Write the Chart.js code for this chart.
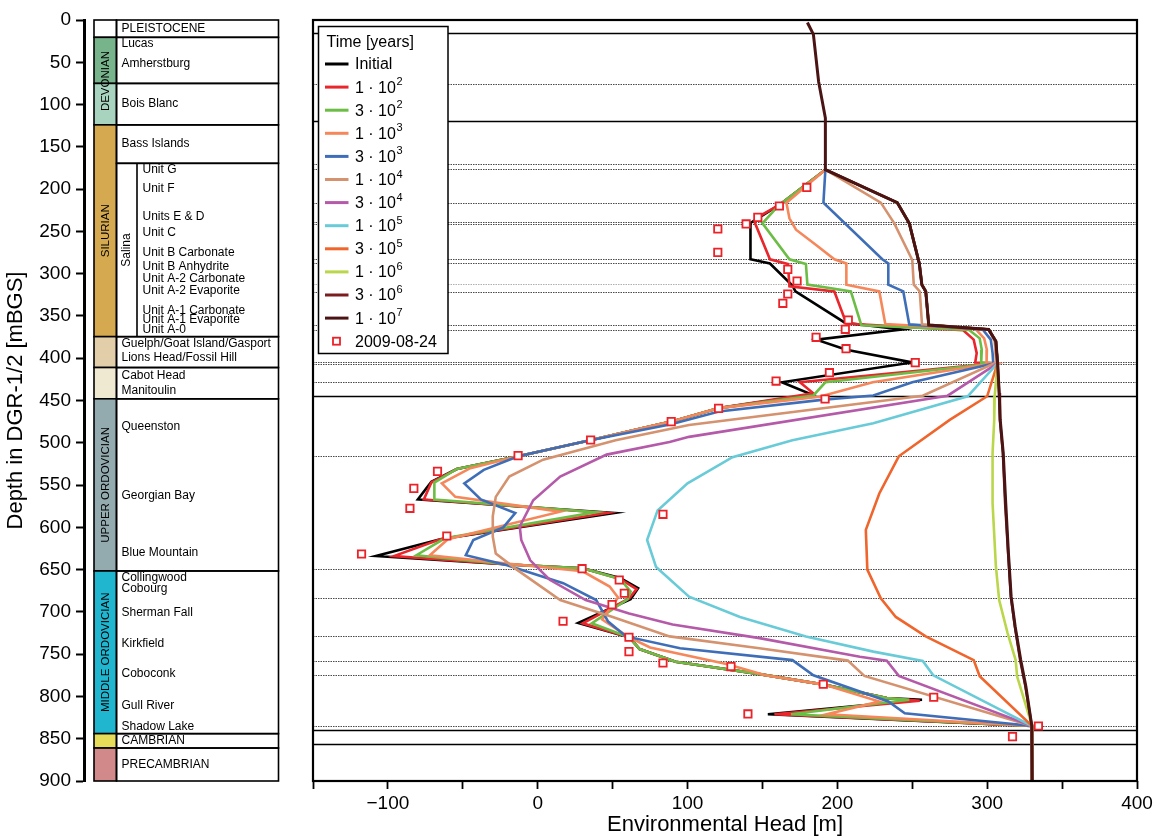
<!DOCTYPE html>
<html>
<head>
<meta charset="utf-8">
<title>DGR-1/2 environmental head profiles</title>
<script src="https://cdn.jsdelivr.net/npm/chart.js@4.4.1/dist/chart.umd.min.js"></script>
<style>
  html, body { margin: 0; padding: 0; background: #fff; }
</style>
</head>
<body>
<canvas id="headChart" width="1156" height="836"></canvas>
<script>
const FONT = '"Liberation Sans", Arial, Helvetica, sans-serif';
Chart.defaults.font.family = FONT;
Chart.defaults.color = '#000';

// ---- simulated environmental head profiles, [head (m), depth (mBGS)] ----
const headInitial = [
  [192,177],[161,219],[142,240],[142,283],[155,288],[170,314],[172,321],[205,358],[243,366],
  [186,378],[206,390],[250,405],[163,428.5],[183,443],[121,459],[89,475],[35,497],[-13,516],
  [-54,531],[-71,546],[-80,567],[51,583],[-65,614],[-108,634],[-19,644],[30,648.5],[55,660],
  [67,672],[62,685],[27,713],[61,730],[68,744],[92,759],[146,773],[191,786],[233,802],
  [256.5,804],[153.6,821],[330,835],[330,900]
];
const head1e2 = [
  [192,177],[161,219],[147,233],[145,240],[155,283],[167,288.5],[168,315],[198,321],[206,359],
  [284,367],[291,378],[293,394],[292,405],[305,406],[175,428.5],[184,441.5],[121,459],[89,475],
  [35,497],[-13,516],[-54,531],[-71,547],[-76,567],[46,583],[-65,614],[-96,634],[-19,644],
  [30,648.5],[55,661],[66,673],[61,684],[30,713.5],[61,730],[68,744],[92,759],[146,773],
  [191,786],[233,802],[255,805],[158,821],[330,835],[330,900]
];
const head3e2 = [
  [192,177],[161,219],[150,240.5],[168,283],[179,288.5],[180,313],[209,321],[216,361],
  [288,366.6],[295,376.5],[296.4,390],[296,405],[305,406],[192,428.5],[184,444],[121,459],
  [89,475],[35,497],[-13,516],[-54,531],[-69,547],[-69,567],[39,582],[-62,613],[-81,633],
  [-19,644],[30,648.5],[55,661],[62,676],[60,685],[36,713.5],[61,730],[68,744],[92,759],
  [146,773],[191,786],[233,802],[248,804],[169,821],[330,835],[330,900]
];
const head1e3 = [
  [192,177],[166,216],[168,234.5],[172.4,248],[185.8,266],[198,283],[206,288],[206,313],
  [228,321],[232,359.5],[292.4,365.8],[298,376.5],[299.8,390],[299.6,405],[305,406],
  [223.6,428.5],[188,445.5],[121,459],[89,475],[35,497],[-13,516],[-45,530],[-64,548],
  [-55,564],[15,581.5],[-60,614],[-72,633],[-19,643],[30,652],[48,670],[53.6,683],[43,709],
  [61,730],[75,742],[126,761.6],[152,775],[191,786],[228,806],[193,821],[330,835],[330,900]
];
const head3e3 = [
  [192,177],[190.7,216],[230,283],[234,288],[234,313],[244,321],[248,360],[297,366],
  [302.4,378],[303.6,394],[304,405],[305,406],[250,428.5],[224,444],[191,449],[121,463],
  [89,478],[35,497],[-13,516],[-36,532],[-49,548],[-38,567],[-15,583],[-23,600],[-43,615],
  [-48,633],[-21,644.5],[17,666],[39,686],[47,711.5],[59,729],[95,743],[170,757],[184,775],
  [234,806],[245,820],[330,835],[330,900]
];
const head1e4 = [
  [192,177],[229,216],[238,240.5],[250,283.8],[251,313],[255,321],[256.5,360],[301,366],
  [305,380],[306,404],[305,406],[257,444.3],[101,479],[68,491],[52,497],[3.6,520],[-19,540],
  [-28,564],[-30,587],[-30,611],[-28,631],[-14,650],[15,686],[50,706],[88,729],[148,743],
  [207,757.6],[218,775.7],[330,835],[330,900]
];
// upper part where the later times have already equilibrated
const salinaEquilibrated = [
  [192,177],[240,216],[248,240.5],[254.7,288],[256.4,313],[259,321],[261,360.7],[301,366],
  [305.8,380],[306.9,406]
];
const head3e4 = [
  ...salinaEquilibrated,
  [273.6,444.3],[101,493],[88,499],[46,514],[15,540],[-3,568],[-12,599],[-11,615],[-5,639],
  [8,662],[32,686],[61,702],[90,715],[148,731],[215,753],[233,757.6],[241,775.7],[330,835],
  [330,900]
];
const head1e5 = [
  ...salinaEquilibrated,
  [287,445],[224,477],[170,497],[130,517],[100,548],[80,580],[73,615],[79,647],[101,682],
  [135,706],[179,729],[224,747],[257,758],[264,775],[330,835],[330,900]
];
const head3e5 = [
  ...salinaEquilibrated,
  [300,445],[275,473],[241,516],[228,560],[219,603],[220,650],[229,684],[239,706],[259,729],
  [291,757],[295,776],[330,835],[330,900]
];
const head1e6 = [
  ...salinaEquilibrated,
  [305,445],[304.7,473],[303.6,512],[303.6,571.5],[305.8,646],[308,686],[313.6,725],[319,757],
  [320,776.5],[330,835],[330,900]
];
const head3e6 = [
  ...salinaEquilibrated,
  [308,441],[308.5,473],[310.5,512],[312,572],[314,631],[315.8,682],[318.5,717.5],[322,757],
  [325.5,788],[329.8,835],[330,900]
];
const head1e7 = [
  [180,3],[184,17],[187.5,73],[192,116],[192,177],[240,216],[248,240.5],[254.7,288],
  [256.4,313],[259,321],[261,360.7],[301,366],[305.8,380],[307,406],[308,441],[308.7,473],
  [310.7,512],[312.4,572],[314.2,631],[316,682],[318.7,717.5],[322.4,757],[325.8,788],
  [329.8,835],[330,900]
];

// field measurements 2009-08-24
const measured = [
  [179.6,198],[161.3,220],[146.9,233.4],[139.1,241.2],[120.2,247.2],[120.2,274.8],[166.9,294.9],
  [173.1,308.7],[166.9,324],[163.6,335.1],[207.3,354.8],[205.3,365.8],[185.8,375.3],[205.8,388.7],
  [252,405.2],[194.7,417.1],[159.1,427],[191.8,448.2],[120.7,459.3],[89.1,475],[35.3,496.7],
  [-13.1,515.2],[-66.9,533.8],[-82.7,553.9],[-85.3,577.5],[83.6,584.6],[-60.7,610.2],
  [-117.6,631.5],[29.6,648.9],[54.4,662.3],[57.8,678],[49.6,691.4],[16.9,711.1],[60.9,730],
  [60.9,747],[83.6,760.4],[129,764.7],[190.6,785.6],[264.3,801],[140.3,820.7],[334.2,834.9],
  [316.9,847.5]
];

const seriesProfiles = [headInitial, head1e2, head3e2, head1e3, head3e3, head1e4,
                        head3e4, head1e5, head3e5, head1e6, head3e6, head1e7];
const seriesLabels = ['Initial', '1 · 10^2', '3 · 10^2', '1 · 10^3', '3 · 10^3', '1 · 10^4',
                      '3 · 10^4', '1 · 10^5', '3 · 10^5', '1 · 10^6', '3 · 10^6', '1 · 10^7'];
const seriesColors = ['#000000', '#e8262b', '#6cbd45', '#f5875a', '#3f6eb8', '#d4926f',
                      '#b45aa9', '#69cbd8', '#ef652c', '#bad64a', '#7b1d1f', '#4a1414'];
const measuredLabel = '2009-08-24';

// model layer boundaries drawn across the plot (mBGS)
const solidLayerDepths = [15.8, 119.4, 444.5, 839.7, 856.2];
const dottedLayerDepths = [75.7, 170.3, 176.6, 216, 238.9, 240.9, 283, 287.8, 322, 360.3, 366.6,
                           404, 406.8, 428.5, 515.2, 648.9, 683.5, 728.1, 758.4, 774.6, 834.5];
const faintLayerDepths = [312.6];

// stratigraphic column (mBGS)
const eraTops = [0, 20.5, 75, 124, 374.5, 411, 448, 651.6, 844, 861];
const eraColors = ['#ffffff', '#77b48c', '#a7d3bf', '#d4a94f', '#e2cfa9', '#f0e9d2',
                   '#93aaaf', '#21b6d0', '#e6dc5a', '#d18a89'];
const eraLabels = ['DEVONIAN', 'SILURIAN', 'UPPER ORDOVICIAN', 'MIDDLE ORDOVICIAN'];
const eraLabelSpans = [[20.5, 124], [124, 374.5], [448, 651.6], [651.6, 844]];
const formationTops = [0, 20.5, 75, 124, 169.5, 374.5, 411, 448, 651.6, 844, 861];
const salinaSpan = [169.5, 374.5];
const formationNames = ['PLEISTOCENE', 'Lucas', 'Amherstburg', 'Bois Blanc', 'Bass Islands',
  'Guelph/Goat Island/Gasport', 'Lions Head/Fossil Hill', 'Cabot Head', 'Manitoulin',
  'Queenston', 'Georgian Bay', 'Blue Mountain', 'Collingwood', 'Cobourg', 'Sherman Fall',
  'Kirkfield', 'Coboconk', 'Gull River', 'Shadow Lake', 'CAMBRIAN', 'PRECAMBRIAN'];
const formationLabelDepths = [10.6, 27.6, 51.2, 98.5, 145.8, 382.3, 399.4, 421, 438.7, 481,
  562.6, 630, 659, 672.9, 700.5, 737.9, 772.6, 810.9, 835.7, 852.3, 881];
const salinaUnits = ['Unit G', 'Unit F', 'Units E & D', 'Unit C', 'Unit B Carbonate',
  'Unit B Anhydrite', 'Unit A-2 Carbonate', 'Unit A-2 Evaporite', 'Unit A-1 Carbonate',
  'Unit A-1 Evaporite', 'Unit A-0'];
const salinaUnitDepths = [177.4, 199.8, 232.6, 251.1, 274.7, 291.7, 305.5, 320.1, 343.8,
  354.8, 365.8];

const xTickStep = 50;

const datasets = seriesProfiles.map((pts, i) => ({
  label: seriesLabels[i],
  data: pts.map(([x, y]) => ({ x, y })),
  showLine: true,
  borderColor: seriesColors[i],
  backgroundColor: seriesColors[i],
  borderWidth: i === 11 ? 3 : 2.6,
  pointRadius: 0,
  pointHoverRadius: 0,
  order: seriesProfiles.length - i
}));
datasets.push({
  label: measuredLabel,
  data: measured.map(([x, y]) => ({ x, y })),
  showLine: false,
  pointStyle: 'rect',
  pointRadius: 5.2,
  pointBorderWidth: 1.8,
  borderColor: '#ec2228',
  backgroundColor: '#ffffff',
  order: 0
});

// horizontal layer boundaries behind the curves
const layerLines = {
  id: 'layerLines',
  beforeDatasetsDraw(chart) {
    const { ctx, chartArea: a, scales: { y } } = chart;
    const hline = d => {
      const py = Math.round(y.getPixelForValue(d)) + 0.5;
      ctx.beginPath(); ctx.moveTo(a.left, py); ctx.lineTo(a.right, py); ctx.stroke();
    };
    ctx.save();
    ctx.lineWidth = 1.2;
    ctx.setLineDash([1.5, 1]);
    ctx.strokeStyle = '#4a4a4a';
    dottedLayerDepths.forEach(hline);
    ctx.strokeStyle = '#b0b0b0';
    faintLayerDepths.forEach(hline);
    ctx.setLineDash([]);
    ctx.strokeStyle = '#000';
    ctx.lineWidth = 1.6;
    solidLayerDepths.forEach(hline);
    ctx.restore();
  }
};

const plotFrame = {
  id: 'plotFrame',
  afterDatasetsDraw(chart) {
    const { ctx, chartArea: a } = chart;
    ctx.save();
    ctx.strokeStyle = '#000';
    ctx.lineWidth = 2.2;
    ctx.strokeRect(a.left, a.top, a.right - a.left, a.bottom - a.top);
    ctx.restore();
  }
};

// stratigraphic column between the depth axis and the plot
const stratColumn = {
  id: 'stratColumn',
  afterDraw(chart) {
    const { ctx, scales: { y } } = chart;
    const py = d => y.getPixelForValue(d);
    const eraL = 94, eraR = 116.5, salinaR = 137, colR = 278.5;
    ctx.save();
    ctx.strokeStyle = '#000';
    ctx.lineWidth = 1.6;
    eraTops.forEach((t, i) => {
      const b = i + 1 < eraTops.length ? eraTops[i + 1] : 900;
      ctx.fillStyle = eraColors[i];
      ctx.fillRect(eraL, py(t), eraR - eraL, py(b) - py(t));
      ctx.strokeRect(eraL, py(t), eraR - eraL, py(b) - py(t));
    });
    formationTops.forEach((t, i) => {
      const b = i + 1 < formationTops.length ? formationTops[i + 1] : 900;
      ctx.strokeRect(eraR, py(t), colR - eraR, py(b) - py(t));
    });
    ctx.beginPath();
    ctx.moveTo(salinaR, py(salinaSpan[0]));
    ctx.lineTo(salinaR, py(salinaSpan[1]));
    ctx.stroke();

    ctx.fillStyle = '#000';
    ctx.textBaseline = 'middle';
    ctx.textAlign = 'left';
    ctx.font = `12px ${FONT}`;
    formationNames.forEach((n, i) => ctx.fillText(n, 121.5, py(formationLabelDepths[i])));
    salinaUnits.forEach((n, i) => ctx.fillText(n, 142.5, py(salinaUnitDepths[i])));

    const vertical = (text, cx, cy) => {
      ctx.save();
      ctx.translate(cx, cy);
      ctx.rotate(-Math.PI / 2);
      ctx.textAlign = 'center';
      ctx.fillText(text, 0, 0);
      ctx.restore();
    };
    vertical('Salina', (eraR + salinaR) / 2, py((salinaSpan[0] + salinaSpan[1]) / 2));
    ctx.font = `11.5px ${FONT}`;
    eraLabels.forEach((n, i) => {
      const [t, b] = eraLabelSpans[i];
      vertical(n, (eraL + eraR) / 2 + 0.5, py((t + b) / 2));
    });
    ctx.restore();
  }
};

// legend box with superscript exponents
const timeLegend = {
  id: 'timeLegend',
  afterDraw(chart) {
    const { ctx } = chart;
    const x0 = 318.5, y0 = 26.5, w = 129.5, h = 327;
    ctx.save();
    ctx.fillStyle = '#fff';
    ctx.fillRect(x0, y0, w, h);
    ctx.strokeStyle = '#000';
    ctx.lineWidth = 1.5;
    ctx.strokeRect(x0, y0, w, h);
    ctx.fillStyle = '#000';
    ctx.textBaseline = 'middle';
    ctx.textAlign = 'left';
    ctx.font = `16px ${FONT}`;
    ctx.fillText('Time [years]', 326.5, 42.5);
    chart.data.datasets.forEach((ds, i) => {
      const cy = 64 + i * 23.1;
      if (ds.showLine) {
        ctx.strokeStyle = ds.borderColor;
        ctx.lineWidth = 3;
        ctx.beginPath(); ctx.moveTo(325, cy); ctx.lineTo(348.5, cy); ctx.stroke();
      } else {
        ctx.fillStyle = '#fff';
        ctx.fillRect(333, cy - 3.5, 7, 7);
        ctx.strokeStyle = ds.borderColor;
        ctx.lineWidth = 1.8;
        ctx.strokeRect(333, cy - 3.5, 7, 7);
      }
      const [base, exp] = ds.label.split('^');
      ctx.fillStyle = '#000';
      ctx.font = `16px ${FONT}`;
      ctx.fillText(base, 355, cy + 1);
      if (exp) {
        const bw = ctx.measureText(base).width;
        ctx.font = `11px ${FONT}`;
        ctx.fillText(exp, 355 + bw + 0.5, cy - 5);
      }
    });
    ctx.restore();
  }
};

new Chart(document.getElementById('headChart'), {
  type: 'scatter',
  data: { datasets },
  options: {
    responsive: false,
    animation: false,
    events: [],
    layout: { padding: { top: 20, right: 19, bottom: 0, left: 0 } },
    plugins: { legend: { display: false }, tooltip: { enabled: false } },
    scales: {
      x: {
        type: 'linear',
        position: 'bottom',
        min: -150,
        max: 400,
        ticks: {
          stepSize: xTickStep,
          autoSkip: false,
          maxRotation: 0,
          padding: 3,
          font: { size: 19 },
          color: '#000',
          callback: v => (v % 100 === 0 ? (v < 0 ? '\u2212' + Math.abs(v) : String(v)) : '')
        },
        grid: { drawOnChartArea: false, tickLength: 8, tickWidth: 1.8, color: '#000' },
        border: { display: false },
        title: {
          display: true,
          text: 'Environmental Head [m]',
          font: { size: 22, lineHeight: 1 },
          color: '#000',
          padding: { top: 0, bottom: 0 }
        },
        afterFit(s) { s.height = 55; s.paddingLeft = 0; s.paddingRight = 0; }
      },
      y: {
        type: 'linear',
        position: 'left',
        reverse: true,
        min: 0,
        max: 900,
        ticks: { display: false },
        grid: { display: false, drawTicks: false },
        border: { display: false },
        afterFit(s) { s.width = 229; s.paddingTop = 0; s.paddingBottom = 0; }
      },
      yd: {
        type: 'linear',
        position: 'left',
        weight: 1,
        reverse: true,
        min: 0,
        max: 900,
        ticks: { stepSize: 50, autoSkip: false, padding: 5, font: { size: 19 }, color: '#000' },
        grid: { drawOnChartArea: false, tickLength: 8, tickWidth: 2, color: '#000' },
        border: { display: true, width: 3, color: '#000' },
        title: {
          display: true,
          text: 'Depth in DGR-1/2 [mBGS]',
          font: { size: 22, lineHeight: 1 },
          color: '#000',
          padding: { top: 5, bottom: 0 }
        },
        afterFit(s) { s.width = 84; s.paddingTop = 0; s.paddingBottom = 0; }
      }
    }
  },
  plugins: [layerLines, plotFrame, stratColumn, timeLegend]
});
</script>
</body>
</html>
